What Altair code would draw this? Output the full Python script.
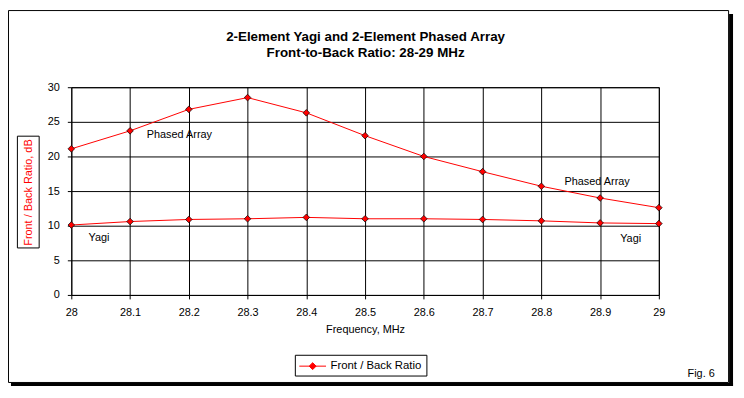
import altair as alt
import pandas as pd

# ---- data ----
freq = [28.0, 28.1, 28.2, 28.3, 28.4, 28.5, 28.6, 28.7, 28.8, 28.9, 29.0]
phased = [21.1, 23.7, 26.8, 28.5, 26.3, 23.0, 20.0, 17.8, 15.7, 14.0, 12.6]
yagi = [10.1, 10.6, 10.9, 11.0, 11.2, 11.0, 11.0, 10.9, 10.7, 10.4, 10.3]
legend_label = "Front / Back Ratio"

ann_text = ["Phased Array", "Phased Array", "Yagi", "Yagi"]
ann_x = [28.184, 28.895, 28.047, 28.952]
ann_y = [23.1, 16.3, 8.25, 8.1]

x_ticks = freq
y_ticks = [0, 5, 10, 15, 20, 25, 30]

title_lines = ["2-Element Yagi and 2-Element Phased Array", "Front-to-Back Ratio: 28-29 MHz"]

rows = []
for f, p, yv in zip(freq, phased, yagi):
    rows.append({"freq": f, "fb": p, "series": "Phased Array", "leg": legend_label})
    rows.append({"freq": f, "fb": yv, "series": "Yagi", "leg": legend_label})
df = pd.DataFrame(rows)
ann = pd.DataFrame({"freq": ann_x, "fb": ann_y, "t": ann_text})
one = alt.Data(values=[{"a": 1}])

FONT = "Liberation Sans"

x_scale = alt.Scale(domain=[28, 29], nice=False, zero=False)
y_scale = alt.Scale(domain=[0, 30], nice=False, zero=True)

x_axis = alt.Axis(values=x_ticks, format="~g", title="Frequency, MHz",
                  titleY=29, titleBaseline="top", titleFontWeight="normal",
                  titleFontSize=11, titleFont=FONT, titleColor="black",
                  labelPadding=8, labelOverlap=False, labelFlush=False)
y_axis = alt.Axis(values=y_ticks, tickCount=7, title="Front / Back Ratio, dB",
                  titleColor="red", titleFontWeight="normal", titleFontSize=11,
                  titleFont=FONT, titleAngle=270, titleX=-43, titleY=106,
                  titleAlign="center", titleBaseline="middle", labelPadding=8,
                  labelOverlap=False, labelFlush=False)

x_enc = alt.X("freq:Q", scale=x_scale, axis=x_axis)
y_enc = alt.Y("fb:Q", scale=y_scale, axis=y_axis)

# decorations
frame = alt.Chart(one).mark_rect(fill="transparent", stroke="black", strokeWidth=1).encode(
    x=alt.value(-63.5), x2=alt.value(664.5), y=alt.value(-77.5), y2=alt.value(298.5))
shadow_r = alt.Chart(one).mark_rect(fill="black").encode(
    x=alt.value(665), x2=alt.value(669), y=alt.value(-74), y2=alt.value(302))
shadow_b = alt.Chart(one).mark_rect(fill="black").encode(
    x=alt.value(-61), x2=alt.value(669), y=alt.value(299), y2=alt.value(302))
ybox = alt.Chart(one).mark_rect(fill="transparent", stroke="black", strokeWidth=1).encode(
    x=alt.value(-54.5), x2=alt.value(-32.5), y=alt.value(49.5), y2=alt.value(162.5))

title1 = alt.Chart(one).mark_text(text=title_lines[0], font=FONT, fontSize=13.5,
                                  fontWeight="bold", color="black", baseline="alphabetic").encode(
    x=alt.value(297.5), y=alt.value(-46.5))
title2 = alt.Chart(one).mark_text(text=title_lines[1], font=FONT, fontSize=13.5,
                                  fontWeight="bold", color="black", baseline="alphabetic").encode(
    x=alt.value(297.5), y=alt.value(-30.3))

line = alt.Chart(df).mark_line(color="red", strokeWidth=1).encode(
    x=x_enc, y=y_enc, detail="series:N")

pts = alt.Chart(df).mark_point(filled=True, shape="diamond", size=45, stroke="black",
                               strokeWidth=0.7, opacity=1).encode(
    x=x_enc, y=y_enc,
    color=alt.Color("leg:N", scale=alt.Scale(range=["red"]),
                    legend=alt.Legend(title=None, orient="none", legendX=226, legendY=270.5,
                                      strokeColor="black", fillColor="white", padding=4,
                                      symbolType="M-1,0L2.86,0M0.43,0L0.93,-0.5L1.43,0L0.93,0.5Z",
                                      symbolSize=196, symbolStrokeColor="red",
                                      symbolFillColor="red", symbolStrokeWidth=1,
                                      labelFont=FONT, labelFontSize=11.5, labelColor="black",
                                      labelOffset=17)))

labels = alt.Chart(ann).mark_text(font=FONT, fontSize=11, color="black").encode(
    x=x_enc, y=y_enc, text="t:N")

fig = alt.Chart(one).mark_text(text="Fig. 6", font=FONT, fontSize=11, color="black",
                               align="left", baseline="middle").encode(
    x=alt.value(623), y=alt.value(290))

chart = alt.layer(frame, shadow_r, shadow_b, ybox, title1, title2, line, pts, labels, fig).properties(
    width=594, height=210,
    autosize=alt.AutoSizeParams(type="none"),
    padding={"left": 64, "top": 78, "right": 78, "bottom": 92},
    background="white",
).configure_view(stroke="black", strokeWidth=1).configure_axis(
    grid=True, gridColor="black", gridOpacity=1, gridWidth=1, domain=False,
    tickColor="black", tickSize=4, tickWidth=1, labelFont=FONT, labelFontSize=11,
    labelColor="black"
)

chart.save("out.html", embed_options={"renderer": "svg", "actions": False})
